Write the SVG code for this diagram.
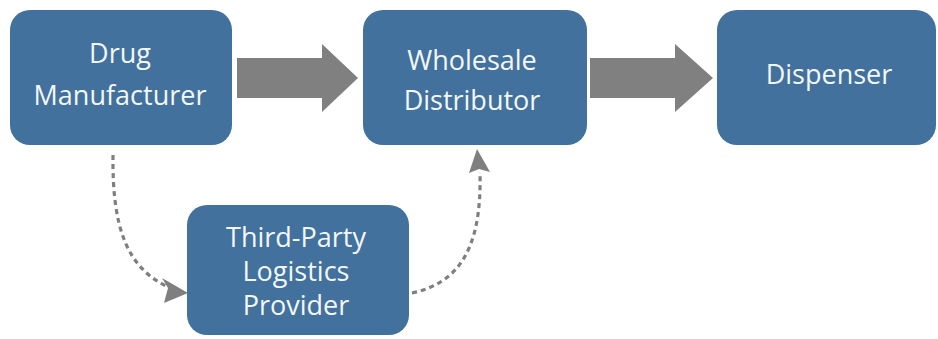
<svg xmlns="http://www.w3.org/2000/svg" width="938" height="339" viewBox="0 0 938 339">
<defs>
<style>
.box{fill:#41719c;}
.lbl{font-family:"Open Sans","Liberation Sans",sans-serif;font-size:27px;fill:#f4f7fa;text-anchor:middle;}
.fat{fill:#808080;}
.dash{fill:none;stroke:#7f7f7f;stroke-width:3.2;stroke-dasharray:5 4;}
</style>
</defs>
<rect width="938" height="339" fill="#ffffff"/>
<g id="connectors">
<path class="fat" d="M237,58 L322,58 L322,44 L358,78 L322,112 L322,98 L237,98 Z"/>
<path class="fat" d="M590,58 L675,58 L675,44 L713,78 L675,112 L675,98 L590,98 Z"/>
<path class="dash" d="M113,155 C112,230 128,268 168,287"/>
<path d="M188,293 L162,278 L168,288 L164,303 Z" fill="#7f7f7f"/>
<path class="dash" d="M412,293 C458,283 482,250 480,172"/>
<path d="M477,149 L469,173 L479,169 L490,172 Z" fill="#7f7f7f"/>
</g>
<g id="drug-manufacturer">
<rect class="box" x="10" y="10" width="222" height="135" rx="20"/>
<text class="lbl" x="120" y="63">Drug</text>
<text class="lbl" x="120" y="105">Manufacturer</text>
</g>
<g id="wholesale-distributor">
<rect class="box" x="363" y="10" width="224" height="135" rx="20"/>
<text class="lbl" x="472" y="70">Wholesale</text>
<text class="lbl" x="472" y="110">Distributor</text>
</g>
<g id="dispenser">
<rect class="box" x="717" y="10" width="219" height="135" rx="20"/>
<text class="lbl" x="829" y="84">Dispenser</text>
</g>
<g id="third-party-logistics-provider">
<rect class="box" x="187" y="205" width="222" height="130" rx="20"/>
<text class="lbl" x="296" y="247">Third-Party</text>
<text class="lbl" x="296" y="281">Logistics</text>
<text class="lbl" x="296" y="315">Provider</text>
</g>
</svg>
